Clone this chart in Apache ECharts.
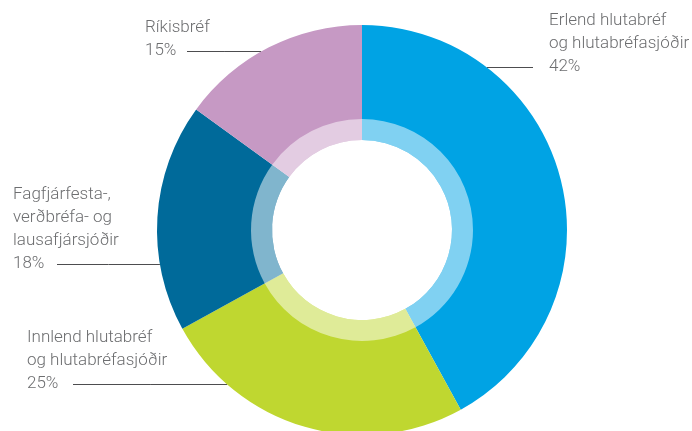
<!DOCTYPE html>
<html><head><meta charset="utf-8">
<script src="https://cdn.jsdelivr.net/npm/echarts@6/dist/echarts.min.js"></script>
<style>html,body{margin:0;padding:0;background:#fff}#c{width:692px;height:431px}</style>
</head><body><div id="c"></div>
<script>
const categories = ['Erlend hlutabréf\nog hlutabréfasjóðir', 'Innlend hlutabréf\nog hlutabréfasjóðir', 'Fagfjárfesta-,\nverðbréfa- og\nlausafjársjóðir', 'Ríkisbréf'];
const values = [42, 25, 18, 15];
const colors = ['#00a3e4', '#bfd730', '#006a9a', '#c699c4'];

const CX = 362, CY = 230, R_IN = 90, R_RING = 111, R_OUT = 205;
const LINE_H = 23;
// label anchor (left, top of text block), side of chart, where the leader line stops
const labelPos = [
  {x: 549, y: 9.5, side: 'right', lineEnd: 533},
  {x: 27, y: 326.5, side: 'left', lineStart: 73},
  {x: 13, y: 183.5, side: 'left', lineStart: 57},
  {x: 145, y: 16, side: 'left', lineStart: 187}
];

function edgeX(y, side) {
  const dy = y - CY;
  const dx = Math.sqrt(Math.max(0, R_OUT * R_OUT - dy * dy));
  return side === 'right' ? CX + dx : CX - dx;
}

const chart = echarts.init(document.getElementById('c'), null, {renderer: 'canvas'});
chart.setOption({
  animation: false,
  series: [{
    type: 'pie',
    center: [CX, CY],
    radius: [R_IN, R_OUT],
    startAngle: 90,
    clockwise: true,
    data: categories.map((n, i) => ({name: n, value: values[i], itemStyle: {color: colors[i]}})),
    itemStyle: {borderWidth: 0},
    emphasis: {disabled: true},
    label: {
      show: true,
      position: 'outside',
      alignTo: 'none',
      overflow: 'none',
      formatter: p => p.name + '\n' + p.value + '%',
      color: '#6d6e70',
      fontFamily: 'Roboto',
      fontWeight: 300,
      fontSize: 17,
      lineHeight: LINE_H,
      align: 'left'
    },
    labelLine: {show: true, lineStyle: {color: '#4d4d4f', width: 1}},
    labelLayout: function (params) {
      const lp = labelPos[params.dataIndex];
      const lines = categories[params.dataIndex].split('\n').length + 1;
      const ly = Math.round(lp.y + (lines - 0.5) * LINE_H) + 0.5;
      let pts;
      if (lp.side === 'right') {
        const e = edgeX(ly, 'right');
        pts = [[e, ly], [(e + lp.lineEnd) / 2, ly], [lp.lineEnd, ly]];
      } else {
        const e = edgeX(ly, 'left');
        pts = [[e, ly], [(e + lp.lineStart) / 2, ly], [lp.lineStart, ly]];
      }
      return {x: lp.x, y: lp.y, align: 'left', verticalAlign: 'top', labelLinePoints: pts};
    }
  }, {
    type: 'pie',
    center: [CX, CY],
    radius: [R_IN, R_RING],
    startAngle: 90,
    clockwise: true,
    silent: true,
    z: 3,
    data: categories.map((n, i) => ({name: n, value: values[i]})),
    itemStyle: {color: 'rgba(255,255,255,0.5)', borderWidth: 0},
    label: {show: false},
    labelLine: {show: false},
    emphasis: {disabled: true}
  }]
});
</script></body></html>
